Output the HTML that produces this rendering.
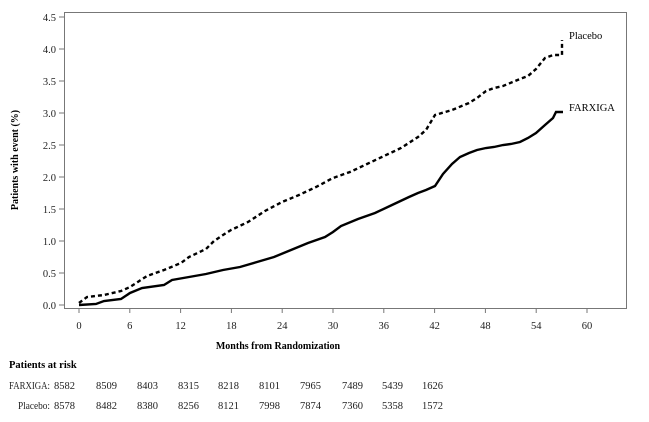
<!DOCTYPE html>
<html><head><meta charset="utf-8"><style>
body{margin:0;background:#fff;width:649px;height:422px;overflow:hidden}
svg{display:block;font-family:"Liberation Serif",serif}
</style></head><body>
<svg width="649" height="422" viewBox="0 0 649 422">
<rect x="64.5" y="12.5" width="562" height="296" fill="none" stroke="#777" stroke-width="1"/>
<g stroke="#777" stroke-width="1">
<line x1="59" x2="64" y1="305" y2="305"/><line x1="59" x2="64" y1="273" y2="273"/><line x1="59" x2="64" y1="241" y2="241"/><line x1="59" x2="64" y1="209" y2="209"/><line x1="59" x2="64" y1="177" y2="177"/><line x1="59" x2="64" y1="145" y2="145"/><line x1="59" x2="64" y1="113" y2="113"/><line x1="59" x2="64" y1="81" y2="81"/><line x1="59" x2="64" y1="49" y2="49"/><line x1="59" x2="64" y1="17" y2="17"/>
<line y1="308" y2="313" x1="79" x2="79"/><line y1="308" y2="313" x1="129.8" x2="129.8"/><line y1="308" y2="313" x1="180.6" x2="180.6"/><line y1="308" y2="313" x1="231.4" x2="231.4"/><line y1="308" y2="313" x1="282.2" x2="282.2"/><line y1="308" y2="313" x1="333" x2="333"/><line y1="308" y2="313" x1="383.8" x2="383.8"/><line y1="308" y2="313" x1="434.6" x2="434.6"/><line y1="308" y2="313" x1="485.4" x2="485.4"/><line y1="308" y2="313" x1="536.2" x2="536.2"/><line y1="308" y2="313" x1="587" x2="587"/>
</g>
<g font-size="10.5" fill="#222" text-anchor="end">
<text x="56" y="309">0.0</text><text x="56" y="277">0.5</text><text x="56" y="245">1.0</text><text x="56" y="213">1.5</text><text x="56" y="181">2.0</text><text x="56" y="149">2.5</text><text x="56" y="117">3.0</text><text x="56" y="85">3.5</text><text x="56" y="53">4.0</text><text x="56" y="21">4.5</text>
</g>
<g font-size="10.5" fill="#222" text-anchor="middle">
<text x="79" y="329">0</text><text x="129.8" y="329">6</text><text x="180.6" y="329">12</text><text x="231.4" y="329">18</text><text x="282.2" y="329">24</text><text x="333" y="329">30</text><text x="383.8" y="329">36</text><text x="434.6" y="329">42</text><text x="485.4" y="329">48</text><text x="536.2" y="329">54</text><text x="587" y="329">60</text>
</g>
<text x="278" y="349" font-size="10" font-weight="bold" text-anchor="middle">Months from Randomization</text>
<text transform="translate(18,160) rotate(-90)" font-size="10" font-weight="bold" text-anchor="middle">Patients with event (%)</text>
<text x="569" y="39" font-size="10.5">Placebo</text>
<text x="569" y="111" font-size="10.5">FARXIGA</text>
<polyline fill="none" stroke="#000" stroke-width="2.4" stroke-dasharray="4,3" stroke-linejoin="miter" points="
79,303 83,300 87,297 104,295 121,291 130,287 147,276 164,270 181,263 189,257 206,249 214,241 223,235 231,230 248,222 265,211 282,202 299,195 316,187 333,178 350,172 367,164 384,156 401,148 418,137 426,130 435,115 452,110 469,103 477,98 486,91 494,88 503,86 520,79 528,76 536,69 545,58 553,55 562,55 562,40"/>
<polyline fill="none" stroke="#000" stroke-width="2.4" stroke-linejoin="miter" points="
79,305 96,304 104,301 121,299 130,293 142,288 164,285 172,280 189,277 206,274 223,270 240,267 257,262 274,257 291,250 308,243 325,237 333,232 341,226 358,219 375,213 392,205 409,197 418,193 426,190 435,186 443,174 452,164 460,157 469,153 477,150 486,148 494,147 503,145 511,144 520,142 528,138 536,133 545,125 553,118 556,112 563,112"/>
<text x="9" y="368" font-size="10.5" font-weight="bold">Patients at risk</text>
<g font-size="10.5" fill="#222">
<text x="9" y="389" textLength="41" lengthAdjust="spacingAndGlyphs">FARXIGA:</text>
<text x="54" y="389">8582</text><text x="96" y="389">8509</text><text x="137" y="389">8403</text><text x="178" y="389">8315</text><text x="218" y="389">8218</text><text x="259" y="389">8101</text><text x="300" y="389">7965</text><text x="342" y="389">7489</text><text x="382" y="389">5439</text><text x="422" y="389">1626</text>
<text x="18" y="409" textLength="32" lengthAdjust="spacingAndGlyphs">Placebo:</text>
<text x="54" y="409">8578</text><text x="96" y="409">8482</text><text x="137" y="409">8380</text><text x="178" y="409">8256</text><text x="218" y="409">8121</text><text x="259" y="409">7998</text><text x="300" y="409">7874</text><text x="342" y="409">7360</text><text x="382" y="409">5358</text><text x="422" y="409">1572</text>
</g>
</svg>
</body></html>
